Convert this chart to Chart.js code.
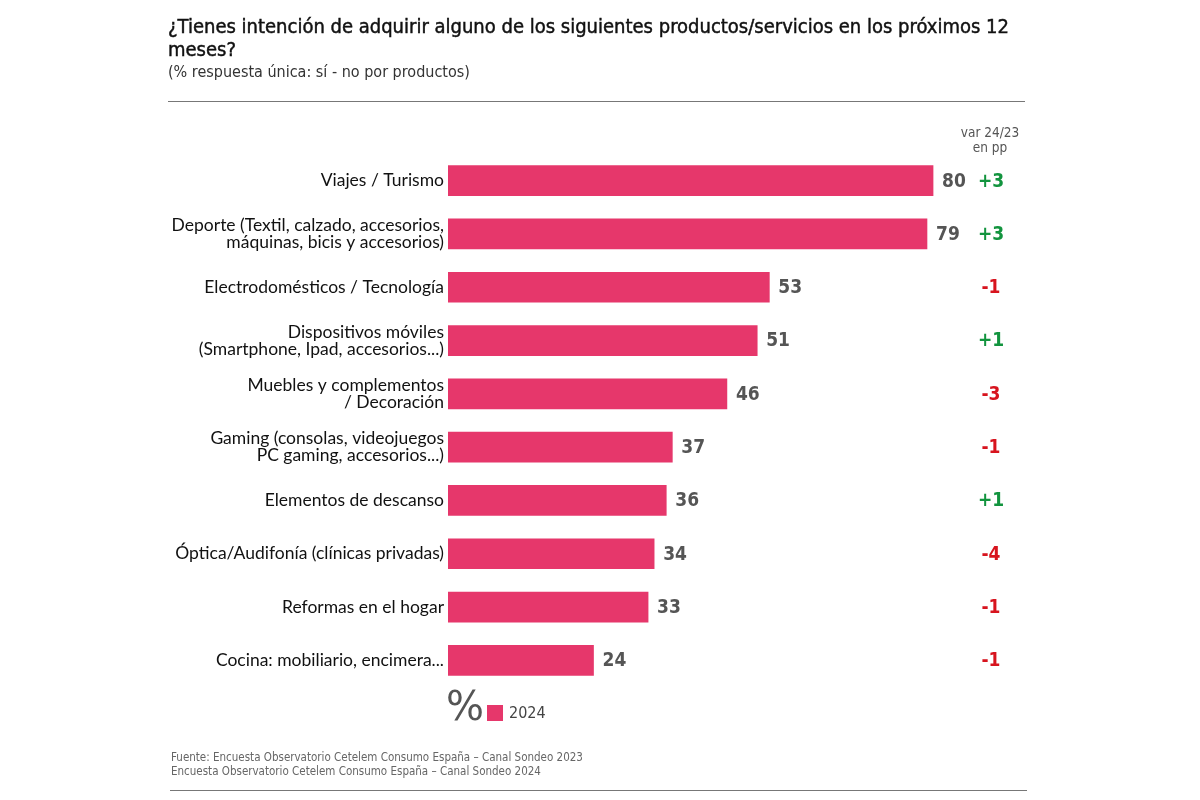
<!DOCTYPE html>
<html>
<head>
<meta charset="utf-8">
<script src="https://cdn.jsdelivr.net/npm/chart.js@4"></script>
<style>
  html, body { margin: 0; padding: 0; background: #fff; }
  #wrap { position: relative; width: 1200px; height: 800px; overflow: hidden; }
  canvas { position: absolute; left: 0; top: 0; }
  .t { position: absolute; white-space: nowrap; font-family: 'DejaVu Sans Condensed', 'Liberation Sans Narrow', sans-serif; }
  #title { left: 168px; top: 15px; font-size: 20px; line-height: 23px; color: #111; white-space: normal; width: 860px; -webkit-text-stroke: 0.45px #111; }
  #sub { left: 168px; top: 62px; font-size: 16px; color: #333; }
  .hr { position: absolute; height: 0; border-top: 1.5px solid #777; }
  #varh { left: 940px; width: 100px; top: 125px; font-size: 13.5px; line-height: 15px; color: #555; text-align: center; }
  #pct { left: 446px; top: 683px; font-size: 40px; color: #555; font-family: 'DejaVu Sans', sans-serif; }
  #sw { position: absolute; left: 487px; top: 705px; width: 16px; height: 16px; background: #E6376B; }
  #leg { left: 509px; top: 703px; font-size: 16px; color: #444; }
  #foot { left: 171px; top: 750px; font-size: 11.5px; line-height: 14px; color: #666; }
</style>
</head>
<body>
<div id="wrap">
  <canvas id="c" width="1200" height="800"></canvas>
  <div class="t" id="title">¿Tienes intención de adquirir alguno de los siguientes productos/servicios en los próximos 12 meses?</div>
  <div class="t" id="sub">(% respuesta única: sí - no por productos)</div>
  <div class="hr" style="left:168px; top:101px; width:857px;"></div>
  <div class="t" id="varh">var 24/23<br>en pp</div>
  <div class="t" id="pct">%</div>
  <div id="sw"></div>
  <div class="t" id="leg">2024</div>
  <div class="t" id="foot">Fuente: Encuesta Observatorio Cetelem Consumo España – Canal Sondeo 2023<br>Encuesta Observatorio Cetelem Consumo España – Canal Sondeo 2024</div>
  <div class="hr" style="left:170px; top:790px; width:857px;"></div>
</div>
<script>
const categories = [
  "Viajes / Turismo",
  ["Deporte (Textil, calzado, accesorios,", "máquinas, bicis y accesorios)"],
  "Electrodomésticos / Tecnología",
  ["Dispositivos móviles", "(Smartphone, Ipad, accesorios...)"],
  ["Muebles y complementos", "/ Decoración"],
  ["Gaming (consolas, videojuegos", "PC gaming, accesorios...)"],
  "Elementos de descanso",
  "Óptica/Audifonía (clínicas privadas)",
  "Reformas en el hogar",
  "Cocina: mobiliario, encimera..."
];
const values2024 = [80, 79, 53, 51, 46, 37, 36, 34, 33, 24];
const varPP = [3, 3, -1, 1, -3, -1, 1, -4, -1, -1];
const seriesName = "2024";

const labelsPlugin = {
  id: 'valueLabels',
  afterDatasetsDraw(chart) {
    const ctx = chart.ctx;
    const xs = chart.scales.x, ys = chart.scales.y;
    ctx.save();
    ctx.textBaseline = 'middle';
    values2024.forEach((v, i) => {
      const y = ys.getPixelForValue(i);
      ctx.font = "bold 19px 'DejaVu Sans Condensed', 'Liberation Sans Narrow', sans-serif";
      ctx.fillStyle = '#555';
      ctx.textAlign = 'left';
      ctx.fillText(String(v), xs.getPixelForValue(v) + 9, y + 1);
      const d = varPP[i];
      ctx.fillStyle = d > 0 ? '#12943E' : '#D7141E';
      ctx.textAlign = 'center';
      ctx.fillText((d > 0 ? '+' : '') + d, chart.chartArea.right - 33, y + 1);
    });
    ctx.restore();
  }
};

new Chart(document.getElementById('c'), {
  type: 'bar',
  data: {
    labels: categories,
    datasets: [{
      label: seriesName,
      data: values2024,
      backgroundColor: '#E6376B',
      barThickness: 30
    }]
  },
  options: {
    indexAxis: 'y',
    responsive: false,
    animation: false,
    layout: { padding: { left: 0, right: 176, top: 154, bottom: 113 } },
    plugins: { legend: { display: false }, tooltip: { enabled: false } },
    scales: {
      x: { display: false, min: 0, max: 95 },
      y: {
        afterFit(s) { s.width = 448; },
        grid: { display: false, drawTicks: false },
        border: { display: false },
        ticks: {
          padding: 4,
          color: '#111',
          font: { size: 17.5, family: "Lato, sans-serif", lineHeight: 0.98 }
        }
      }
    }
  },
  plugins: [labelsPlugin]
});
</script>
</body>
</html>
